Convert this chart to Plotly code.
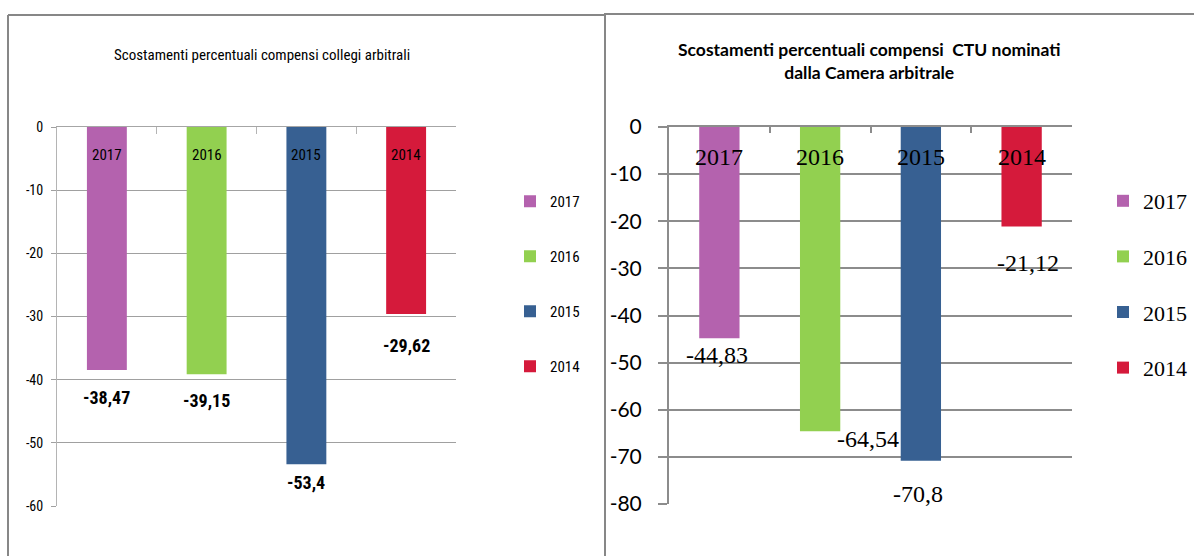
import plotly.graph_objects as go

# Categories (years) and percentage deviations for the two charts
years = ["2017", "2016", "2015", "2014"]
collegi_values = [-38.47, -39.15, -53.4, -29.62]
ctu_values = [-44.83, -64.54, -70.8, -21.12]
collegi_labels = ["-38,47", "-39,15", "-53,4", "-29,62"]
ctu_labels = ["-44,83", "-64,54", "-70,8", "-21,12"]
collegi_ticks = [0, -10, -20, -30, -40, -50, -60]
ctu_ticks = [0, -10, -20, -30, -40, -50, -60, -70, -80]
colors = ["#B462AE", "#92D050", "#376092", "#D51A3B"]

# label offsets (pixels) for the value labels under each bar
collegi_shift_x = [0, 0, 0, 0]
collegi_shift_y = [-27, -26, -18, -31]
ctu_shift_x = [-2, 48, -3, 6]
ctu_shift_y = [-17, -8, -33, -36]

W, H = 1194, 556
px = lambda v: v / W
py = lambda v: 1 - v / H

narrow = "Liberation Sans Narrow, Roboto Condensed, Arial Narrow, sans-serif"
serif = "Liberation Serif, Times New Roman, serif"
sans = "Lato, Open Sans, sans-serif"

fig = go.Figure()

for i, yr in enumerate(years):
    fig.add_trace(go.Bar(
        x=[yr], y=[collegi_values[i]], name=yr, width=0.4,
        marker=dict(color=colors[i], line=dict(width=0)),
        xaxis="x", yaxis="y", legend="legend", legendgroup="a" + yr,
        hoverinfo="name+y",
    ))
for i, yr in enumerate(years):
    fig.add_trace(go.Bar(
        x=[yr], y=[ctu_values[i]], name=yr, width=0.4,
        marker=dict(color=colors[i], line=dict(width=0)),
        xaxis="x2", yaxis="y2", legend="legend2", legendgroup="b" + yr,
        hoverinfo="name+y",
    ))

annotations = []
# titles
annotations.append(dict(
    x=px(262), y=py(55), xref="paper", yref="paper", showarrow=False,
    text="Scostamenti percentuali compensi collegi arbitrali",
    font=dict(family=narrow, size=15, color="#000000"),
    xanchor="center", yanchor="middle"))
annotations.append(dict(
    x=px(869), y=py(61), xref="paper", yref="paper", showarrow=False,
    text="<b>Scostamenti percentuali compensi  CTU nominati</b><br><b>dalla Camera arbitrale</b>",
    font=dict(family=sans, size=17.5, color="#000000"),
    xanchor="center", yanchor="middle"))

# on a category axis, annotation x is the category index
for i, yr in enumerate(years):
    annotations.append(dict(
        x=i, y=0, xref="x", yref="y", showarrow=False, text=yr,
        yshift=-28, font=dict(family=narrow, size=15, color="#000000"),
        xanchor="center", yanchor="middle"))
    annotations.append(dict(
        x=i, y=collegi_values[i], xref="x", yref="y", showarrow=False,
        text="<b>" + collegi_labels[i] + "</b>",
        xshift=collegi_shift_x[i], yshift=collegi_shift_y[i],
        font=dict(family=narrow, size=18, color="#000000"),
        xanchor="center", yanchor="middle"))
    annotations.append(dict(
        x=i, y=0, xref="x2", yref="y2", showarrow=False, text=yr,
        yshift=-30, font=dict(family=serif, size=24, color="#000000"),
        xanchor="center", yanchor="middle"))
    annotations.append(dict(
        x=i, y=ctu_values[i], xref="x2", yref="y2", showarrow=False,
        text=ctu_labels[i],
        xshift=ctu_shift_x[i], yshift=ctu_shift_y[i],
        font=dict(family=serif, size=24, color="#000000"),
        xanchor="center", yanchor="middle"))

frame = dict(type="line", xref="paper", yref="paper",
             line=dict(color="#878787", width=2))
shapes = [
    dict(frame, x0=px(8), x1=px(605), y0=py(15), y1=py(15)),
    dict(frame, x0=px(8), x1=px(8), y0=py(15), y1=py(556)),
    dict(frame, x0=px(605), x1=px(605), y0=py(15), y1=py(556)),
    dict(frame, x0=px(604), x1=px(1194), y0=py(14), y1=py(14)),
]

fig.update_layout(
    width=W, height=H, autosize=False,
    margin=dict(l=0, r=0, t=0, b=0, pad=0, autoexpand=False),
    paper_bgcolor="white", plot_bgcolor="white",
    barmode="overlay",
    annotations=annotations, shapes=shapes,
    xaxis=dict(
        domain=[px(57), px(456)], anchor="y", side="top",
        type="category", categoryorder="array", categoryarray=years,
        range=[-0.5, len(years) - 0.5], fixedrange=True,
        showticklabels=False, showgrid=False, showline=True,
        linecolor="#a6a6a6", linewidth=1,
        ticks="inside", tickson="boundaries", ticklen=7,
        tickcolor="#b4b4b4", tickwidth=1,
    ),
    yaxis=dict(
        domain=[py(506), py(127)], anchor="x",
        range=[-60, 0], fixedrange=True, showgrid=True,
        tickvals=collegi_ticks, ticktext=[str(t) for t in collegi_ticks],
        gridcolor="#a0a0a0", gridwidth=1, zeroline=False,
        showline=True, linecolor="#b4b4b4", linewidth=1,
        ticks="outside", ticklen=5, tickcolor="#a0a0a0",
        ticklabelstandoff=5,
        tickfont=dict(family=narrow, size=14, color="#000000"),
    ),
    xaxis2=dict(
        domain=[px(669), px(1072)], anchor="y2", side="top",
        type="category", categoryorder="array", categoryarray=years,
        range=[-0.5, len(years) - 0.5], fixedrange=True,
        showticklabels=False, showgrid=False, showline=True,
        linecolor="#8c8c8c", linewidth=2,
        ticks="inside", tickson="boundaries", ticklen=6,
        tickcolor="#8c8c8c", tickwidth=2,
    ),
    yaxis2=dict(
        domain=[py(504), py(127)], anchor="x2",
        range=[-80, 0], fixedrange=True, showgrid=True,
        tickvals=ctu_ticks, ticktext=[str(t) for t in ctu_ticks],
        gridcolor="#8c8c8c", gridwidth=2, zeroline=False,
        showline=True, linecolor="#8c8c8c", linewidth=2,
        ticks="outside", ticklen=9, tickcolor="#8c8c8c", tickwidth=2,
        ticklabelstandoff=12,
        tickfont=dict(family=sans, size=21, color="#000000"),
    ),
    legend=dict(
        x=px(510), y=py(185), xanchor="left", yanchor="top",
        bgcolor="rgba(0,0,0,0)", tracegroupgap=32.5,
        font=dict(family=narrow, size=15, color="#000000"),
        itemclick=False, itemdoubleclick=False,
    ),
    legend2=dict(
        x=px(1103), y=py(180), xanchor="left", yanchor="top",
        bgcolor="rgba(0,0,0,0)", tracegroupgap=24,
        font=dict(family=serif, size=22, color="#000000"),
        itemclick=False, itemdoubleclick=False,
    ),
)

fig.write_html("out.html")
